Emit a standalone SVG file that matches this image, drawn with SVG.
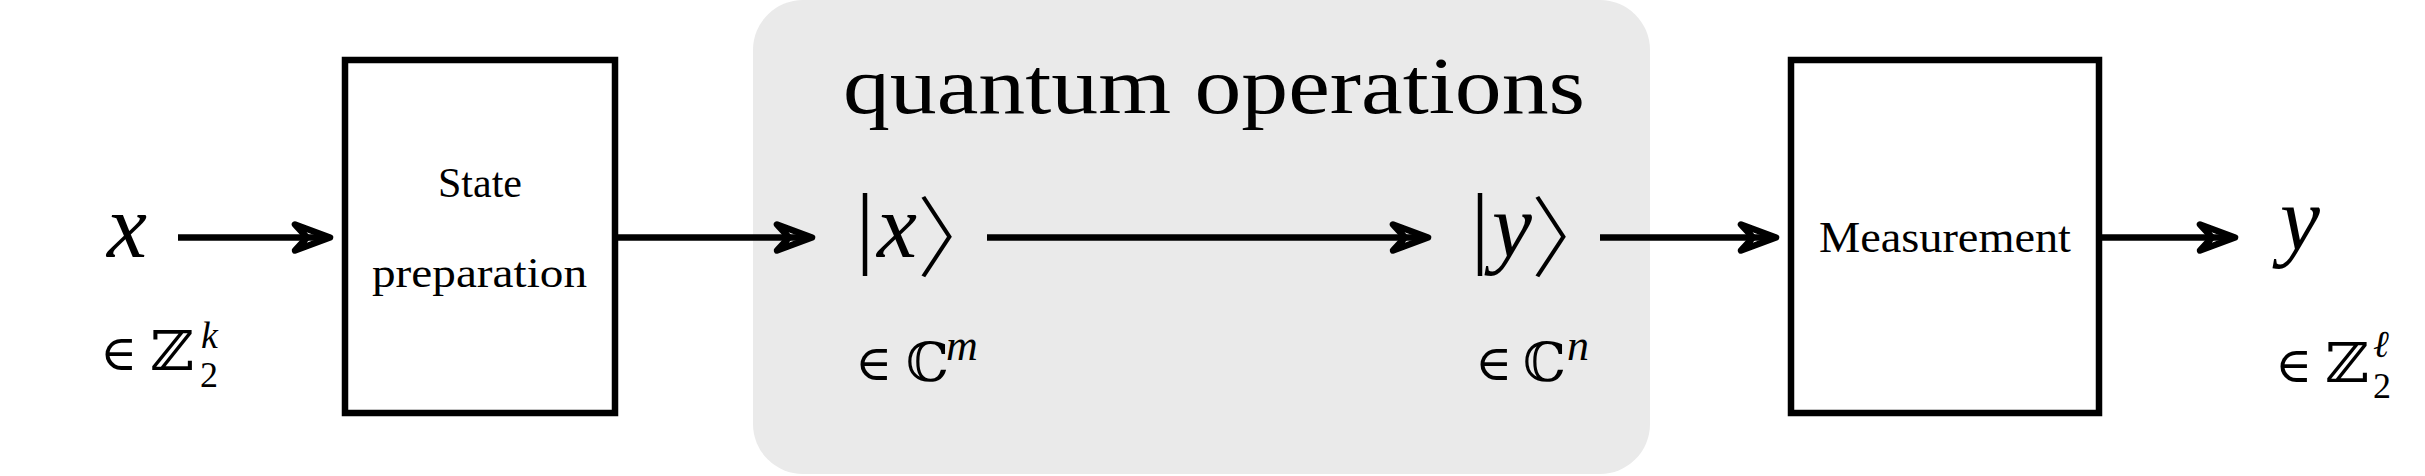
<svg xmlns="http://www.w3.org/2000/svg" width="2425" height="476" viewBox="0 0 2425 476">
  <defs>
    <style>
      .box { fill: #ffffff; stroke: #000000; stroke-width: 6.5; }
      .conn { fill: none; stroke: #000000; stroke-width: 6.5; marker-end: url(#arr); }
      .txt { font-family: "Liberation Serif", "Times New Roman", serif; fill: #000000; }
      .it { font-family: "Liberation Serif", "Times New Roman", serif; font-style: italic; fill: #000000; }
      .sym { font-family: "DejaVu Serif", "Liberation Serif", serif; fill: #000000; }
      .ang { font-family: "Noto Sans CJK JP", "Noto Sans CJK SC", "DejaVu Serif", sans-serif; font-weight: 300; fill: #000000; }
    </style>
    <marker id="arr" markerUnits="userSpaceOnUse" orient="auto" refX="0" refY="0" markerWidth="1" markerHeight="1" overflow="visible">
      <path d="M-35,-13 L0,0 L-35,13 L-23,0 Z" fill="none" stroke="#000000" stroke-width="6.5" stroke-linejoin="round" stroke-linecap="round"/>
    </marker>
  </defs>

  <g id="quantum-region">
    <rect x="753" y="0" width="897" height="474" rx="50" ry="50" fill="#eaeaea"/>
    <text class="txt" x="843" y="113" font-size="80" textLength="742" lengthAdjust="spacingAndGlyphs">quantum operations</text>
  </g>

  <g id="connectors">
    <path class="conn" d="M178,237.5 H330"/>
    <path class="conn" d="M615,237.5 H812"/>
    <path class="conn" d="M987,237.5 H1428"/>
    <path class="conn" d="M1600,237.5 H1776"/>
    <path class="conn" d="M2099,237.5 H2235"/>
  </g>

  <g id="input-x">
    <text class="it" x="107" y="257" font-size="90">x</text>
    <text class="sym" x="100" y="370" font-size="50">∈</text>
    <text class="sym" transform="translate(150,370) scale(1.1,1)" x="0" y="0" font-size="55">ℤ</text>
    <text class="it" x="201" y="348" font-size="38">k</text>
    <text class="txt" x="200" y="387" font-size="36">2</text>
  </g>

  <g id="state-preparation">
    <rect class="box" x="345" y="60" width="270" height="353"/>
    <text class="txt" x="480" y="197" font-size="42" text-anchor="middle">State</text>
    <text class="txt" x="372" y="287" font-size="42" textLength="215" lengthAdjust="spacingAndGlyphs">preparation</text>
  </g>

  <g id="ket-x">
    <text class="txt" x="856" y="257" font-size="90">|</text>
    <text class="it" x="877" y="257" font-size="90">x</text>
    <text class="ang" x="917" y="270" font-size="88">〉</text>
    <text class="sym" x="855" y="380" font-size="50">∈</text>
    <text class="sym" x="906" y="381" font-size="54">ℂ</text>
    <text class="it" x="946" y="360" font-size="44">m</text>
  </g>

  <g id="ket-y">
    <text class="txt" x="1471" y="257" font-size="90">|</text>
    <text class="it" x="1492" y="257" font-size="90">y</text>
    <text class="ang" x="1531" y="270" font-size="88">〉</text>
    <text class="sym" x="1475" y="380" font-size="50">∈</text>
    <text class="sym" x="1523" y="381" font-size="54">ℂ</text>
    <text class="it" x="1567" y="360" font-size="44">n</text>
  </g>

  <g id="measurement">
    <rect class="box" x="1791" y="60" width="308" height="353"/>
    <text class="txt" x="1945" y="252" font-size="45" text-anchor="middle" textLength="252" lengthAdjust="spacingAndGlyphs">Measurement</text>
  </g>

  <g id="output-y">
    <text class="it" x="2280" y="250" font-size="90">y</text>
    <text class="sym" x="2275" y="382" font-size="50">∈</text>
    <text class="sym" transform="translate(2325,382) scale(1.1,1)" x="0" y="0" font-size="55">ℤ</text>
    <text class="it" x="2373" y="357" font-size="38">ℓ</text>
    <text class="txt" x="2373" y="398" font-size="36">2</text>
  </g>
</svg>
